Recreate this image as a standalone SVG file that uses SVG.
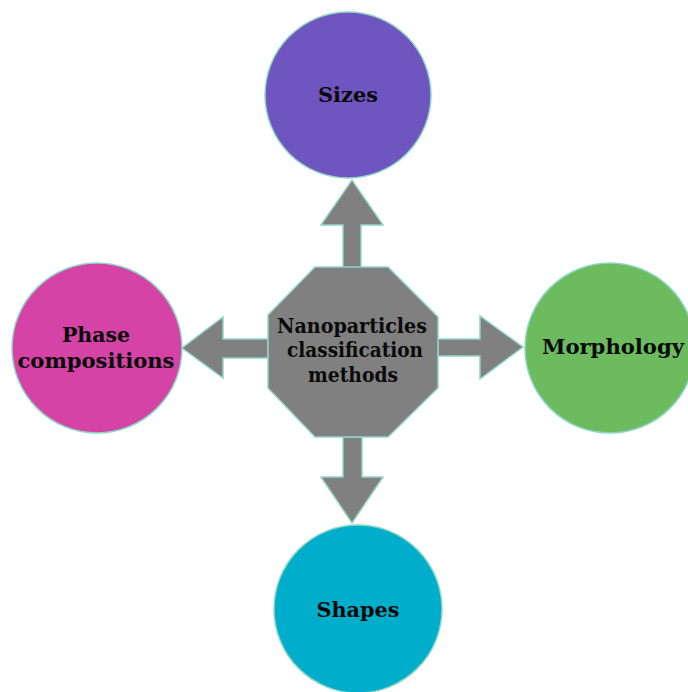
<svg xmlns="http://www.w3.org/2000/svg" width="688" height="692" viewBox="0 0 688 692">
<style>
.node{stroke:#8fd6c4;stroke-width:1.5}
.arrow{fill:#808080;stroke:#8fd6c4;stroke-width:1.5;stroke-linejoin:miter}
.lbl{font-family:"DejaVu Serif","Liberation Serif",serif;font-weight:bold;font-size:21px;fill:#0a0a0a;text-anchor:middle}
</style>
<rect width="688" height="692" fill="#ffffff"/>
<g id="connectors">
<polygon class="arrow" points="343,268 343,225 321,225 352,180 383,225 361,225 361,268"/>
<polygon class="arrow" points="343,437 343,477 321,477 352,523 383,477 362,477 362,437"/>
<polygon class="arrow" points="268,339 223,339 223,317 182,348 223,378 223,358 268,358"/>
<polygon class="arrow" points="438,339 480,339 480,316 523,347 480,379 480,356 438,356"/>
</g>
<g id="center">
<polygon class="node" fill="#808080" points="315,267 388,267 438,317 438,388 388,437 315,437 268,388 268,315"/>
<text class="lbl" x="352" y="333" textLength="150" lengthAdjust="spacingAndGlyphs">Nanoparticles</text>
<text class="lbl" x="355" y="357" textLength="136" lengthAdjust="spacingAndGlyphs">classification</text>
<text class="lbl" x="353" y="382" textLength="90" lengthAdjust="spacingAndGlyphs">methods</text>
</g>
<g id="sizes">
<circle class="node" cx="348" cy="95" r="83" fill="#6f55bf"/>
<text class="lbl" x="348" y="102" textLength="60" lengthAdjust="spacingAndGlyphs">Sizes</text>
</g>
<g id="phase">
<circle class="node" cx="97" cy="348" r="85" fill="#d443a5"/>
<text class="lbl" x="96" y="342" textLength="68" lengthAdjust="spacingAndGlyphs">Phase</text>
<text class="lbl" x="96" y="368" textLength="157" lengthAdjust="spacingAndGlyphs">compositions</text>
</g>
<g id="morphology">
<circle class="node" cx="610" cy="348" r="85" fill="#6cbb5f"/>
<text class="lbl" x="613" y="354" textLength="142" lengthAdjust="spacingAndGlyphs">Morphology</text>
</g>
<g id="shapes">
<circle class="node" cx="358" cy="609" r="84" fill="#00aecc"/>
<text class="lbl" x="358" y="617" textLength="83" lengthAdjust="spacingAndGlyphs">Shapes</text>
</g>
</svg>
